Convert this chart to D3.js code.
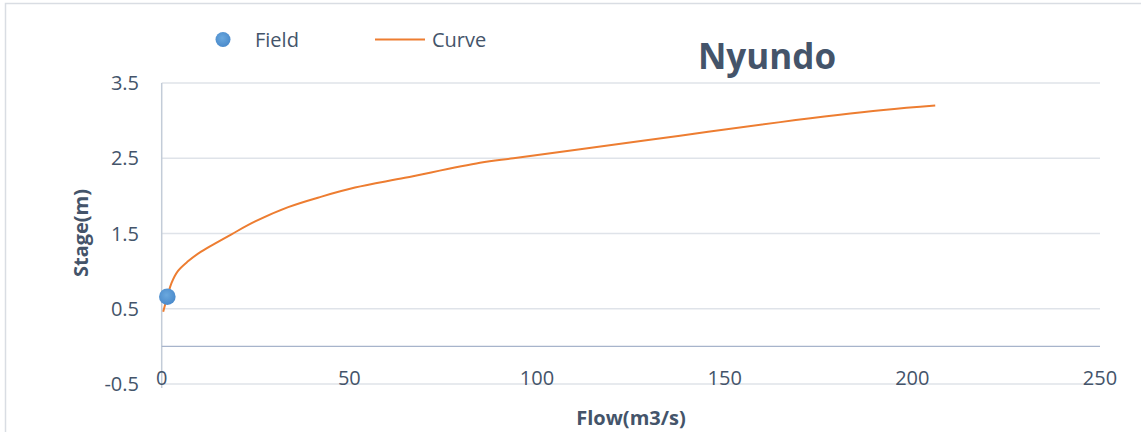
<!DOCTYPE html>
<html>
<head>
<meta charset="utf-8">
<script src="https://cdn.jsdelivr.net/npm/d3@7"></script>
<style>
  html, body { margin: 0; padding: 0; background: #fff; }
  svg { display: block; font-family: "Open Sans", "Noto Sans", sans-serif; }
</style>
</head>
<body>
<svg id="chart" width="1141" height="432"></svg>
<script>
// Rating curve for the Nyundo station: flow (m3/s) against stage (m)
const curveFlow  = [0.4, 1.5, 2.6, 4.3, 7.0, 10.5, 15.0, 18.6, 24.9, 33.7, 42.6, 51.5, 64.8, 84.8, 93.7, 111.5, 138.1, 164.8, 192.3, 206.1];
const curveStage = [0.46, 0.66, 0.84, 1.00, 1.13, 1.26, 1.39, 1.49, 1.66, 1.85, 1.99, 2.11, 2.24, 2.44, 2.50, 2.62, 2.80, 2.98, 3.14, 3.20];

// Field measurement
const fieldFlow  = [1.5];
const fieldStage = [0.66];

const xTicks = [0, 50, 100, 150, 200, 250];
const yTicks = [-0.5, 0.5, 1.5, 2.5, 3.5];

const titleText = "Nyundo";
const xTitle = "Flow(m3/s)";
const yTitle = "Stage(m)";
const legendItems = ["Field", "Curve"];

const textColor = "#44546a";
const orange = "#ed7d31";

const svg = d3.select("#chart");

// outer chart frame
svg.append("rect")
  .attr("x", 5.5).attr("y", 3.5)
  .attr("width", 1160).attr("height", 460)
  .attr("fill", "#fff")
  .attr("stroke", "#d9dde3")
  .attr("stroke-width", 1.5);

const x = d3.scaleLinear().domain([0, 250]).range([161.7, 1100]);
const y = d3.scaleLinear().domain([-0.5, 3.5]).range([384, 83]);

// horizontal gridlines
svg.append("g")
  .selectAll("line")
  .data(yTicks)
  .join("line")
  .attr("x1", x(0)).attr("x2", x(250))
  .attr("y1", d => y(d)).attr("y2", d => y(d))
  .attr("stroke", "#dfe3e9")
  .attr("stroke-width", 1.6);

// vertical axis line
svg.append("line")
  .attr("x1", x(0)).attr("x2", x(0))
  .attr("y1", y(3.5)).attr("y2", y(-0.5) + 4)
  .attr("stroke", "#c3ccd8")
  .attr("stroke-width", 1.5);

// horizontal axis at stage 0
svg.append("line")
  .attr("x1", x(0)).attr("x2", x(250))
  .attr("y1", y(0)).attr("y2", y(0))
  .attr("stroke", "#a7b4cb")
  .attr("stroke-width", 1.2);

// y tick labels (plain hyphen for negatives)
const fmtY = d => d3.format(".1f")(d).replace("\u2212", "-");
svg.append("g")
  .selectAll("text")
  .data(yTicks)
  .join("text")
  .attr("x", 139)
  .attr("y", d => y(d))
  .attr("dy", "0.36em")
  .attr("text-anchor", "end")
  .attr("font-size", 20)
  .attr("fill", textColor)
  .text(fmtY);

// x tick labels
svg.append("g")
  .selectAll("text")
  .data(xTicks)
  .join("text")
  .attr("x", d => x(d))
  .attr("y", 385)
  .attr("text-anchor", "middle")
  .attr("font-size", 20)
  .attr("fill", textColor)
  .text(d => d);

// rating curve
const pts = curveFlow.map((f, i) => [f, curveStage[i]]);
const line = d3.line()
  .x(d => x(d[0]))
  .y(d => y(d[1]))
  .curve(d3.curveCatmullRom.alpha(0.5));

svg.append("path")
  .datum(pts)
  .attr("d", line)
  .attr("fill", "none")
  .attr("stroke", orange)
  .attr("stroke-width", 2);

// field marker gradient
const defs = svg.append("defs");
const grad = defs.append("radialGradient")
  .attr("id", "dotFill")
  .attr("cx", "45%").attr("cy", "40%").attr("r", "60%");
grad.append("stop").attr("offset", "0%").attr("stop-color", "#6aa8de");
grad.append("stop").attr("offset", "100%").attr("stop-color", "#4a8acb");

svg.append("g")
  .selectAll("circle")
  .data(fieldFlow.map((f, i) => [f, fieldStage[i]]))
  .join("circle")
  .attr("cx", d => x(d[0]))
  .attr("cy", d => y(d[1]))
  .attr("r", 8.3)
  .attr("fill", "url(#dotFill)");

// title
svg.append("text")
  .attr("x", 767)
  .attr("y", 69)
  .attr("text-anchor", "middle")
  .attr("font-size", 35)
  .attr("font-weight", "bold")
  .attr("fill", textColor)
  .text(titleText);

// axis titles
svg.append("text")
  .attr("x", 631)
  .attr("y", 425)
  .attr("text-anchor", "middle")
  .attr("font-size", 20)
  .attr("font-weight", "bold")
  .attr("fill", textColor)
  .text(xTitle);

svg.append("text")
  .attr("transform", "translate(88,233) rotate(-90)")
  .attr("text-anchor", "middle")
  .attr("font-size", 20)
  .attr("font-weight", "bold")
  .attr("fill", textColor)
  .text(yTitle);

// legend
const legend = svg.append("g");
legend.append("circle")
  .attr("cx", 223).attr("cy", 39.5).attr("r", 7.5)
  .attr("fill", "url(#dotFill)");
legend.append("text")
  .attr("x", 255).attr("y", 39.5).attr("dy", "0.36em")
  .attr("font-size", 20).attr("fill", textColor)
  .text(legendItems[0]);
legend.append("line")
  .attr("x1", 375).attr("x2", 425)
  .attr("y1", 39.5).attr("y2", 39.5)
  .attr("stroke", orange).attr("stroke-width", 2);
legend.append("text")
  .attr("x", 432).attr("y", 39.5).attr("dy", "0.36em")
  .attr("font-size", 20).attr("fill", textColor)
  .text(legendItems[1]);
</script>
</body>
</html>
